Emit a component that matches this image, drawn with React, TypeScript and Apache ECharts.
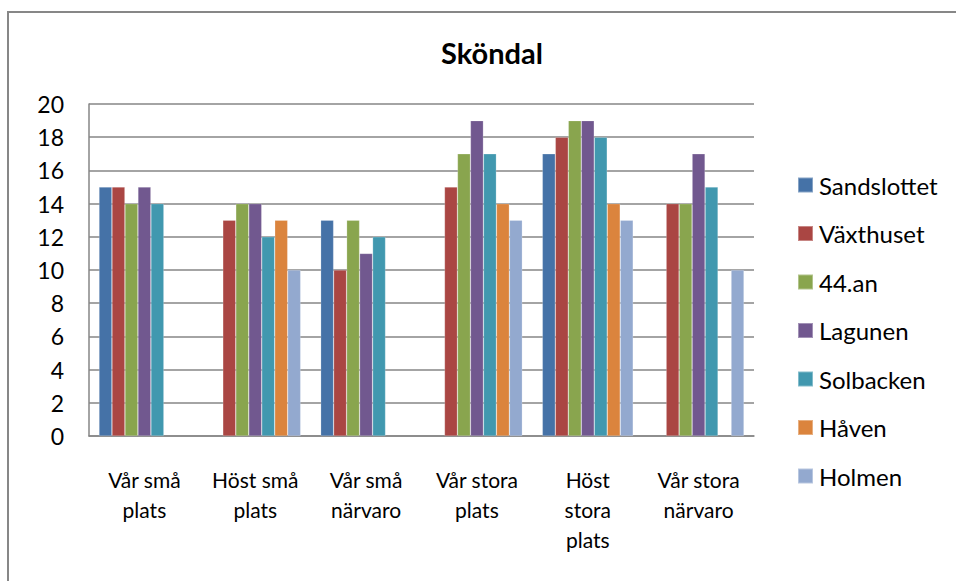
import React, { useEffect, useRef } from "react";
import * as echarts from "echarts";

const categories = [
  "Vår små\nplats",
  "Höst små\nplats",
  "Vår små\nnärvaro",
  "Vår stora\nplats",
  "Höst\nstora\nplats",
  "Vår stora\nnärvaro",
];

const seriesNames = ["Sandslottet", "Växthuset", "44.an", "Lagunen", "Solbacken", "Håven", "Holmen"];

const sandslottet = [15, null, 13, null, 17, null];
const vaxthuset = [15, 13, 10, 15, 18, 14];
const fortyFourAn = [14, 14, 13, 17, 19, 14];
const lagunen = [15, 14, 11, 19, 19, 17];
const solbacken = [14, 12, 12, 17, 18, 15];
const haven = [null, 13, null, 14, 14, null];
const holmen = [null, 10, null, 13, 13, 10];

const seriesValues = [sandslottet, vaxthuset, fortyFourAn, lagunen, solbacken, haven, holmen];
const colors = ["#4572A7", "#AA4643", "#89A54E", "#71588F", "#4198AF", "#DB843D", "#93A9CF"];

const yTicks = { min: 0, max: 20, interval: 2 };

const FONT = "Lato, 'Open Sans', sans-serif";

export default function App() {
  const ref = useRef<HTMLDivElement>(null);
  useEffect(() => {
    if (!ref.current) return;
    const chart = echarts.init(ref.current, null, { renderer: "svg" });
    chart.setOption({
      animation: false,
      backgroundColor: "#ffffff",
      textStyle: { fontFamily: FONT },
      title: {
        text: "Sköndal",
        left: 487,
        top: 33,
        textAlign: "center",
        textStyle: { fontFamily: FONT, fontWeight: "bold", fontSize: 29, color: "#000" },
      },
      graphic: [
        {
          type: "rect",
          shape: { x: 8, y: 12, width: 980, height: 600 },
          style: { fill: "none", stroke: "#878787", lineWidth: 2 },
          silent: true,
        },
      ],
      legend: {
        orient: "vertical",
        left: 797,
        top: 173,
        padding: 0,
        itemWidth: 15,
        itemHeight: 15,
        itemGap: 24.5,
        icon: "rect",
        textStyle: { fontFamily: FONT, fontSize: 24, color: "#000", lineHeight: 24, padding: [0, 0, 0, 1] },
        data: seriesNames,
      },
      grid: { left: 89, right: 202, top: 104, bottom: 145, containLabel: false },
      xAxis: {
        type: "category",
        data: categories,
        axisLine: { show: true, lineStyle: { color: "#868686", width: 1.5 } },
        axisTick: { show: false },
        axisLabel: {
          interval: 0,
          margin: 28,
          fontFamily: FONT,
          fontSize: 21,
          lineHeight: 30,
          color: "#000",
        },
      },
      yAxis: {
        type: "value",
        min: yTicks.min,
        max: yTicks.max,
        interval: yTicks.interval,
        axisLine: { show: true, lineStyle: { color: "#868686", width: 1.5 } },
        axisTick: { show: false },
        splitLine: { show: true, lineStyle: { color: "#868686", width: 1.5 } },
        axisLabel: { margin: 25, fontFamily: FONT, fontSize: 23, color: "#000" },
      },
      series: seriesNames.map((name, i) => ({
        name,
        type: "bar",
        data: seriesValues[i],
        barGap: "0%",
        barCategoryGap: "18%",
        itemStyle: { color: colors[i], borderColor: "rgba(255,255,255,0.35)", borderWidth: 0.6 },
      })),
    });
    return () => chart.dispose();
  }, []);
  return (
    <div
      ref={ref}
      style={{ position: "absolute", left: 0, top: 0, width: 956, height: 581 }}
    />
  );
}
